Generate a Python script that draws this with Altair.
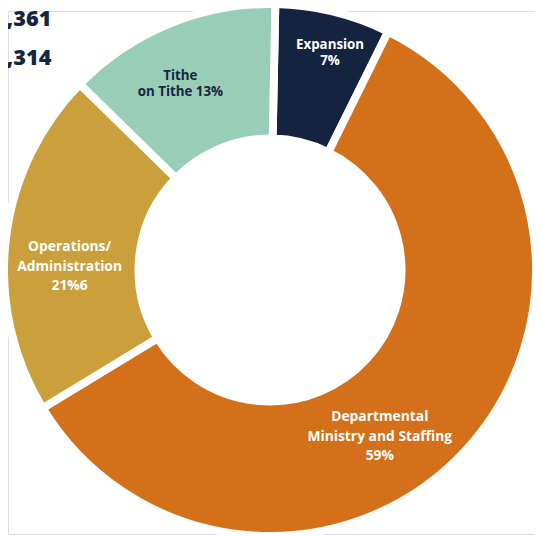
import math
import altair as alt
import pandas as pd

# ---- data ----
categories = ["Expansion", "Departmental Ministry and Staffing",
              "Operations/Administration", "Tithe on Tithe"]
shares = [7, 59, 21, 13]
labels = ["Expansion\n7%",
          "Departmental\nMinistry and Staffing\n59%",
          "Operations/\nAdministration\n21%6",
          "Tithe\non Tithe 13%"]
colors = ["#14233F", "#D47019", "#CB9F3B", "#98CDB8"]
summary_values = ["2,361", "5,314"]

df = pd.DataFrame({"category": categories, "share": shares,
                   "label": labels, "order": list(range(len(categories)))})
df_summary = pd.DataFrame({"value": summary_values, "row": list(range(len(summary_values)))})
TOTAL = sum(shares)

# ---- layout / style ----
W, H = 532, 529
CX, CY = 265, 262
OFF = 0.02
NAVY = "#172640"
FONT = "Open Sans"
theta_scale = alt.Scale(domain=[0, TOTAL], range=[OFF, OFF + 2 * math.pi])

ring = alt.Chart(df).mark_arc(outerRadius=269, innerRadius=133, stroke="white",
                              strokeWidth=8).encode(
    theta=alt.Theta("share:Q", stack=True, scale=theta_scale),
    order=alt.Order("order:Q"),
    x=alt.value(CX), y=alt.value(CY),
    color=alt.Color("category:N", scale=alt.Scale(domain=categories, range=colors),
                    legend=None),
)

label_style = {
    "Expansion": dict(dx=12, dy=-28, color="white", size=13.5, lh=16),
    "Departmental Ministry and Staffing": dict(dx=-40, dy=10, color="white", size=14, lh=20),
    "Operations/Administration": dict(dx=1, dy=0, color="white", size=14, lh=20),
    "Tithe on Tithe": dict(dx=-13, dy=-6, color=NAVY, size=13.5, lh=16),
}

label_base = alt.Chart(df).transform_window(
    cum="sum(share)", sort=[alt.SortField("order")]
).transform_calculate(mid="datum.cum - datum.share / 2")

layers = [ring]
for cat, st in label_style.items():
    layers.append(
        label_base.transform_filter(alt.datum.category == cat).mark_text(
            radius=205, dx=st["dx"], dy=st["dy"], color=st["color"],
            fontSize=st["size"], lineHeight=st["lh"], font=FONT,
            fontWeight="bold", lineBreak="\n", align="center", baseline="middle"
        ).encode(
            theta=alt.Theta("mid:Q", stack=None, scale=theta_scale),
            x=alt.value(CX), y=alt.value(CY),
            text=alt.Text("label:N"),
        )
    )

summary = alt.Chart(df_summary).mark_text(
    align="right", baseline="alphabetic", fontSize=22, fontWeight=800,
    font=FONT, color=NAVY
).encode(
    x=alt.value(44),
    y=alt.Y("row:Q", scale=alt.Scale(domain=[0, 1], range=[15, 55]), axis=None),
    text="value:N",
)
layers.append(summary)

chart = alt.layer(*layers).properties(
    width=W, height=H,
    autosize=alt.AutoSizeParams(type="none"),
    padding=0,
).configure_view(stroke=None).configure(background="white")

chart.save("out.html", embed_options={"renderer": "svg", "actions": False})
